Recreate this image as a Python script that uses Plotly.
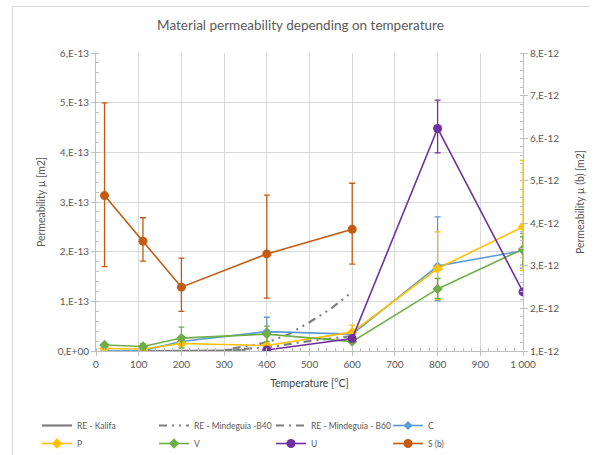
import plotly.graph_objects as go

# ---------------- data ----------------
temps = [20, 110, 200, 400, 600, 800, 1000]

C_vals = [0.0, 0.01e-13, 0.19e-13, 0.39e-13, 0.34e-13, 1.71e-13, 2.02e-13]
C_plus = [0.0, 0.0, 0.0, 0.29e-13, 0.05e-13, 0.99e-13, 0.35e-13]
C_minus = [0.0, 0.0, 0.0, 0.28e-13, 0.05e-13, 0.70e-13, 0.35e-13]

P_vals = [0.05e-13, 0.04e-13, 0.15e-13, 0.11e-13, 0.38e-13, 1.66e-13, 2.50e-13]
P_plus = [0.0, 0.0, 0.03e-13, 0.04e-13, 0.14e-13, 0.74e-13, 1.34e-13]
P_minus = [0.0, 0.0, 0.03e-13, 0.04e-13, 0.10e-13, 0.62e-13, 0.88e-13]

V_vals = [0.12e-13, 0.09e-13, 0.26e-13, 0.34e-13, 0.19e-13, 1.25e-13, 2.05e-13]
V_plus = [0.02e-13, 0.06e-13, 0.22e-13, 0.16e-13, 0.03e-13, 0.21e-13, 0.25e-13]
V_minus = [0.02e-13, 0.06e-13, 0.20e-13, 0.15e-13, 0.03e-13, 0.19e-13, 0.32e-13]

U_temps = [400, 600, 800, 1000]
U_vals = [0.02e-13, 0.25e-13, 4.48e-13, 1.19e-13]
U_plus = [0.0, 0.0, 0.57e-13, 0.0]
U_minus = [0.0, 0.0, 0.49e-13, 0.0]

S_temps = [20, 110, 200, 400, 600]
S_vals = [4.65e-12, 3.58e-12, 2.50e-12, 3.28e-12, 3.86e-12]
S_plus = [2.18e-12, 0.55e-12, 0.68e-12, 1.38e-12, 1.08e-12]
S_minus = [1.67e-12, 0.47e-12, 0.57e-12, 1.04e-12, 0.82e-12]

kalifa_t = [100, 150, 200, 250, 300, 350]
kalifa_v = [0.0, 0.0, 0.0, 0.005e-13, 0.01e-13, 0.02e-13]
b40_t = [320, 400, 450, 500, 550, 600]
b40_v = [0.05e-13, 0.17e-13, 0.33e-13, 0.58e-13, 0.85e-13, 1.19e-13]
b60_t = [300, 400, 500, 600]
b60_v = [0.02e-13, 0.07e-13, 0.20e-13, 0.30e-13]

left_tickvals = [0, 1e-13, 2e-13, 3e-13, 4e-13, 5e-13, 6e-13]
left_ticktext = ["0,E+00", "1,E-13", "2,E-13", "3,E-13", "4,E-13", "5,E-13", "6,E-13"]
right_tickvals = [1e-12, 2e-12, 3e-12, 4e-12, 5e-12, 6e-12, 7e-12, 8e-12]
right_ticktext = ["1,E-12", "2,E-12", "3,E-12", "4,E-12", "5,E-12", "6,E-12", "7,E-12", "8,E-12"]
x_tickvals = [0, 100, 200, 300, 400, 500, 600, 700, 800, 900, 1000]
x_ticktext = ["0", "100", "200", "300", "400", "500", "600", "700", "800", "900", "1 000"]

# ---------------- figure ----------------
FONT = "Lato"
TXT = "#595959"
W, H = 601, 455
L, R, T, B = 96, 78, 53, 104
pw, ph = W - L - R, H - T - B

def px_x(p):
    return (p - L) / pw

def px_y(p):
    return (H - B - p) / ph

fig = go.Figure()

gray = "#7f7f7f"
fig.add_trace(go.Scatter(x=kalifa_t, y=kalifa_v, mode="lines", name="RE - Kalifa",
                         line=dict(color=gray, width=2.2), legend="legend"))
fig.add_trace(go.Scatter(x=b40_t, y=b40_v, mode="lines", name="RE - Mindeguia -B40",
                         line=dict(color=gray, width=2.2, dash="8px,5px,2px,5px,2px,5px"), legend="legend"))
fig.add_trace(go.Scatter(x=b60_t, y=b60_v, mode="lines", name="RE - Mindeguia - B60",
                         line=dict(color=gray, width=2.2, dash="8px,5px,2px,5px"), legend="legend"))

def err(plus, minus, color):
    return dict(type="data", symmetric=False, array=plus, arrayminus=minus,
                color=color, thickness=1.3, width=3)

c_col, p_col, v_col, u_col, s_col = "#5B9BD5", "#FFC000", "#70AD47", "#7030A0", "#C55A11"

fig.add_trace(go.Scatter(x=temps, y=C_vals, mode="lines+markers", name="C",
                         line=dict(color=c_col, width=1.6),
                         marker=dict(symbol="diamond", size=7, color=c_col),
                         error_y=err(C_plus, C_minus, c_col), legend="legend"))
fig.add_trace(go.Scatter(x=temps, y=P_vals, mode="lines+markers", name="P",
                         line=dict(color=p_col, width=1.6),
                         marker=dict(symbol="diamond", size=8, color=p_col),
                         error_y=err(P_plus, P_minus, p_col), legend="legend2"))
fig.add_trace(go.Scatter(x=temps, y=V_vals, mode="lines+markers", name="V",
                         line=dict(color=v_col, width=1.6),
                         marker=dict(symbol="diamond", size=8, color=v_col),
                         error_y=err(V_plus, V_minus, v_col), legend="legend2"))
fig.add_trace(go.Scatter(x=U_temps, y=U_vals, mode="lines+markers", name="U",
                         line=dict(color=u_col, width=1.6),
                         marker=dict(symbol="circle", size=9, color=u_col),
                         error_y=err(U_plus, U_minus, u_col), legend="legend2"))
fig.add_trace(go.Scatter(x=S_temps, y=S_vals, mode="lines+markers", name="S (b)", yaxis="y2",
                         line=dict(color=s_col, width=1.6),
                         marker=dict(symbol="circle", size=9, color=s_col),
                         error_y=err(S_plus, S_minus, s_col), legend="legend2"))

axis_common = dict(showline=True, linecolor="#bfbfbf", linewidth=1,
                   ticks="outside", ticklen=4, tickcolor="#bfbfbf",
                   tickfont=dict(family=FONT, size=10, color=TXT),
                   zeroline=False)

legend_common = dict(orientation="h", xanchor="left", yanchor="top",
                     entrywidth=72, entrywidthmode="pixels", tracegroupgap=0,
                     font=dict(family=FONT, size=8.5, color=TXT), bgcolor="rgba(0,0,0,0)")

fig.update_layout(
    width=W, height=H,
    margin=dict(l=L, r=R, t=T, b=B, autoexpand=False),
    paper_bgcolor="white", plot_bgcolor="white",
    font=dict(family=FONT, color=TXT),
    title=dict(text="Material permeability depending on temperature",
               x=0.5, xref="container", xanchor="center", y=1 - 25 / H, yanchor="middle",
               font=dict(family=FONT, size=13.5, color=TXT)),
    xaxis=dict(range=[0, 1000], tickvals=x_tickvals, ticktext=x_ticktext,
               showgrid=True, gridcolor="#d9d9d9", gridwidth=1,
               minor=dict(dtick=20, ticks="inside", ticklen=3, tickcolor="#bfbfbf", showgrid=False),
               title=dict(text="Temperature [°C]", font=dict(family=FONT, size=10.5, color="#404040"), standoff=10),
               **axis_common),
    yaxis=dict(range=[0, 6e-13], tickvals=left_tickvals, ticktext=left_ticktext,
               showgrid=True, gridcolor="#d9d9d9", gridwidth=1,
               minor=dict(dtick=0.2e-13, ticks="inside", ticklen=3, tickcolor="#bfbfbf", showgrid=False),
               title=dict(text="Permeability µ [m2]", font=dict(family=FONT, size=10.5, color=TXT), standoff=10),
               **axis_common),
    yaxis2=dict(range=[1e-12, 8e-12], tickvals=right_tickvals, ticktext=right_ticktext,
                overlaying="y", side="right", showgrid=False,
                minor=dict(dtick=0.2e-12, ticks="inside", ticklen=3, tickcolor="#bfbfbf", showgrid=False),
                title=dict(text="Permeability µ (b) [m2]", font=dict(family=FONT, size=10.5, color=TXT), standoff=18),
                **axis_common),
    legend=dict(x=px_x(37), y=px_y(411), **legend_common),
    legend2=dict(x=px_x(37), y=px_y(429), **legend_common),
    showlegend=True,
)

# chart area border (left and top edges)
fig.add_shape(type="line", xref="paper", yref="paper",
              x0=px_x(12.5), x1=px_x(12.5), y0=px_y(6.5), y1=px_y(460),
              line=dict(color="#d9d9d9", width=1))
fig.add_shape(type="line", xref="paper", yref="paper",
              x0=px_x(12.5), x1=px_x(590), y0=px_y(6.5), y1=px_y(6.5),
              line=dict(color="#d9d9d9", width=1))

fig.write_html("out.html")
